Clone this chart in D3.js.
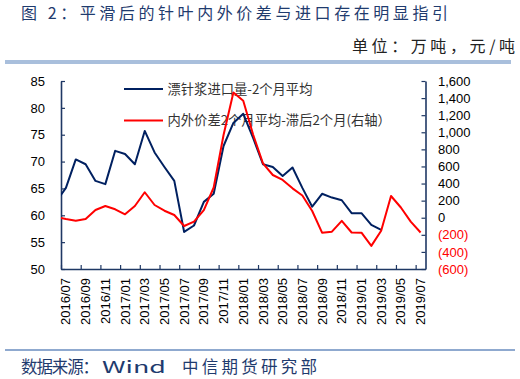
<!DOCTYPE html>
<html><head><meta charset="utf-8">
<script src="https://cdn.jsdelivr.net/npm/d3@7"></script>
<style>
html,body{margin:0;padding:0;background:#fff;}
svg{display:block;}
</style></head>
<body>
<svg id="chart" width="520" height="379"></svg>
<script>
// Months (first entry lies just left of the plotted window and is clipped)
const months = ["2016/06","2016/07","2016/08","2016/09","2016/10","2016/11","2016/12",
"2017/01","2017/02","2017/03","2017/04","2017/05","2017/06","2017/07","2017/08","2017/09","2017/10","2017/11","2017/12",
"2018/01","2018/02","2018/03","2018/04","2018/05","2018/06","2018/07","2018/08","2018/09","2018/10","2018/11","2018/12",
"2019/01","2019/02","2019/03","2019/04","2019/05","2019/06","2019/07"];
// 漂针浆进口量-2个月平均 (万吨, left axis)
const importVol = [62.5,65.1,70.4,69.5,66.4,65.8,72.0,71.4,69.5,75.7,71.7,69.0,66.4,56.9,58.1,62.5,64.0,72.9,77.2,78.9,
74.4,69.5,69.0,67.3,68.9,65.1,61.6,64.0,63.3,62.8,60.4,60.4,58.2,57.3,null,null,null,null];
// 内外价差2个月平均-滞后2个月 (元/吨, right axis)
const priceSpread = [10,-15,-35,-15,90,137,99,40,137,298,149,82,32,-97,-46,90,354,968,1466,1370,
974,637,500,442,344,260,79,-175,-163,-36,-173,-175,-329,-153,254,120,-46,-173];
const leftTicks = [50,55,60,65,70,75,80,85];
const rightTicks = [-600,-400,-200,0,200,400,600,800,1000,1200,1400,1600];
const xLabels = ["2016/07","2016/09","2016/11","2017/01","2017/03","2017/05","2017/07","2017/09","2017/11",
"2018/01","2018/03","2018/05","2018/07","2018/09","2018/11","2019/01","2019/03","2019/05","2019/07"];
const legendNames = ["漂针浆进口量-2个月平均","内外价差2个月平均-滞后2个月(右轴）"];

const svg = d3.select("#chart");
const navy = "#002060";
const red = "#ff0000";
const cjk = "'Noto Sans CJK SC','Liberation Sans',sans-serif";
const num = "'Liberation Sans',Arial,sans-serif";

const L = 61, R = 425.5, T = 81, B = 269;
const x = d3.scaleLinear().domain([0.5, months.length - 0.5]).range([L, R]);
const yL = d3.scaleLinear().domain([50, 85]).range([B, T]);
const yR = d3.scaleLinear().domain([-600, 1600]).range([B, T]);

// Title
svg.append("text").attr("x", 21).attr("y", 19)
  .attr("font-family", cjk).attr("font-size", 16)
  .attr("textLength", 427).attr("lengthAdjust", "spacing")
  .attr("fill", "#1f3b6e").text("图 2：平滑后的针叶内外价差与进口存在明显指引");
svg.append("text").attr("x", 352).attr("y", 52)
  .attr("font-family", cjk).attr("font-size", 16)
  .attr("textLength", 163).attr("lengthAdjust", "spacing")
  .attr("fill", "#222").text("单位：万吨，元/吨");
svg.append("rect").attr("x", 5).attr("y", 60).attr("width", 506).attr("height", 4).attr("fill", "#a9bfdc");

// Footer
svg.append("rect").attr("x", 5).attr("y", 349).attr("width", 510).attr("height", 2).attr("fill", "#8fa9cf");
const foot = [
  {t: "数据来源：", x: 21, w: 78, adj: "spacing"},
  {t: "Wind", x: 102, w: 64, adj: "spacingAndGlyphs"},
  {t: "中信期货研究部", x: 182, w: 135, adj: "spacing"}
];
svg.append("g").selectAll("text").data(foot).join("text")
  .attr("x", d => d.x).attr("y", 373)
  .attr("font-family", cjk).attr("font-size", 16.5)
  .attr("textLength", d => d.w).attr("lengthAdjust", d => d.adj)
  .attr("fill", "#1f3b6e").text(d => d.t);

// Axes
const gL = svg.append("g").attr("transform", `translate(${L},0)`)
  .call(d3.axisLeft(yL).tickValues(leftTicks).tickSize(-4).tickSizeOuter(0).tickPadding(16));
const gR = svg.append("g").attr("transform", `translate(${R},0)`)
  .call(d3.axisRight(yR).tickValues(rightTicks).tickSize(-4).tickSizeOuter(0).tickPadding(12.5)
    .tickFormat(d => d < 0 ? `(${d3.format(",")(-d)})` : d3.format(",")(d)));
const xTickVals = [];
for (let i = 1; i < months.length; i += 2) xTickVals.push(i - 0.5);
const gB = svg.append("g").attr("transform", `translate(0,${B})`)
  .call(d3.axisBottom(x).tickValues(xTickVals).tickSize(-4).tickSizeOuter(0).tickFormat(""));
[gL, gR, gB].forEach(g => {
  g.selectAll("path.domain").attr("stroke", "#1f3864").attr("stroke-width", 1.6);
  g.selectAll(".tick line").attr("stroke", "#1f3864").attr("stroke-width", 1.2);
  g.selectAll("text").attr("font-family", num).attr("font-size", 13).attr("fill", "#000");
});
gR.selectAll(".tick text").attr("fill", d => d < 0 ? red : "#000");

// X labels
svg.append("g").selectAll("text").data(xLabels).join("text")
  .attr("transform", d => `translate(${x(months.indexOf(d))},278) rotate(-90)`)
  .attr("text-anchor", "end").attr("dy", "0.35em")
  .attr("font-family", num).attr("font-size", 13).attr("fill", "#000")
  .text(d => d);

// Legend
const leg = svg.append("g");
const legColors = [navy, red];
const legY = [89, 120.5];
legendNames.forEach((n, i) => {
  leg.append("line").attr("x1", 124).attr("x2", 163).attr("y1", legY[i]).attr("y2", legY[i])
    .attr("stroke", legColors[i]).attr("stroke-width", 2);
  leg.append("text").attr("x", 167.5).attr("y", legY[i]).attr("dy", "0.36em")
    .attr("font-family", cjk).attr("font-size", 13.3).attr("fill", "#333").text(n);
});

// Lines
svg.append("clipPath").attr("id", "clip").append("rect")
  .attr("x", L).attr("y", 0).attr("width", R - L).attr("height", 379);
const plot = svg.append("g").attr("clip-path", "url(#clip)");
const lineL = d3.line().defined(d => d != null).x((d, i) => x(i)).y(d => yL(d));
const lineR = d3.line().defined(d => d != null).x((d, i) => x(i)).y(d => yR(d));
plot.append("path").datum(importVol).attr("d", lineL)
  .attr("fill", "none").attr("stroke", navy).attr("stroke-width", 2).attr("stroke-linejoin", "round");
plot.append("path").datum(priceSpread).attr("d", lineR)
  .attr("fill", "none").attr("stroke", red).attr("stroke-width", 2).attr("stroke-linejoin", "round");
</script>
</body></html>
